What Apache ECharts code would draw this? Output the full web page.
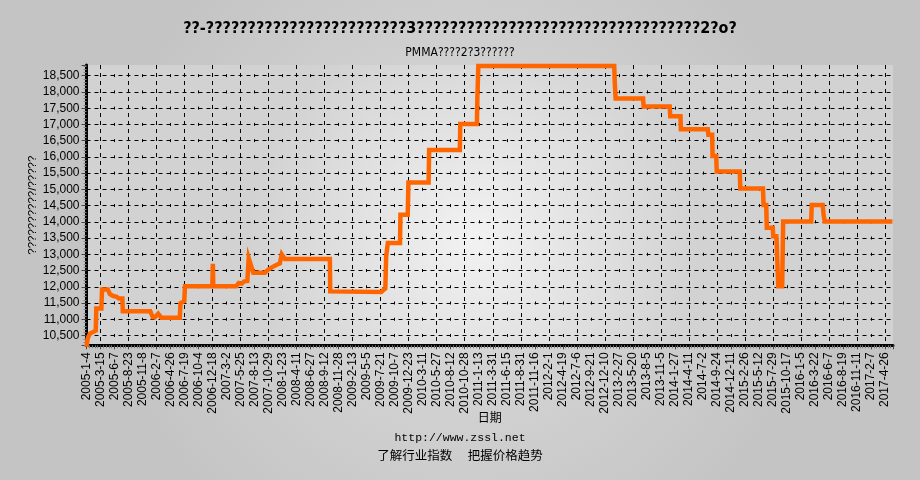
<!DOCTYPE html>
<html><head><meta charset="utf-8">
<script src="https://cdn.jsdelivr.net/npm/echarts@6/dist/echarts.min.js"></script>
<style>html,body{margin:0;padding:0;background:#c9c9c9}#c{width:920px;height:480px}</style>
</head><body><div id="c"></div>
<script>
// ---- text ----
const titleText = '??-????????????????????????3??????????????????????????????????2?o?';
const subtitleText = 'PMMA????2?3??????';
const yAxisName = '??????????/?????';
const xAxisName = '日期';
const siteText = 'http://www.zssl.net';
const sloganText = '了解行业指数\u3000 把握价格趋势';

// ---- x tick labels (one per label slot) ----
const tickLabels = ['2005-1-4','2005-3-15','2005-6-7','2005-8-23','2005-11-8','2006-2-7','2006-4-26','2006-7-19','2006-10-4','2006-12-18',
'2007-3-2','2007-5-25','2007-8-13','2007-10-29','2008-1-23','2008-4-11','2008-6-27','2008-9-12','2008-11-28','2009-2-13',
'2009-5-5','2009-7-21','2009-10-7','2009-12-23','2010-3-11','2010-5-27','2010-8-12','2010-10-28','2011-1-13','2011-3-31',
'2011-6-15','2011-8-31','2011-11-16','2012-2-1','2012-4-19','2012-7-6','2012-9-21','2012-12-10','2013-2-27','2013-5-20',
'2013-8-5','2013-11-5','2014-1-27','2014-4-11','2014-7-2','2014-9-24','2014-12-11','2015-2-26','2015-5-12','2015-7-29',
'2015-10-17','2016-1-5','2016-3-22','2016-6-7','2016-8-19','2016-11-11','2017-2-7','2017-4-26'];

// ---- series: position along the date axis (in label slots) and price ----
const stepX = [0,0.09,0.24,0.38,0.66,0.70,1.06,1.11,1.52,1.66,1.88,2.16,2.31,2.56,2.59,4.55,4.73,4.88,5.12,5.34,
6.66,6.71,6.98,7.03,8.98,9.02,9.05,10.69,10.87,11.08,11.26,11.48,11.58,11.91,12.73,12.94,13.23,13.58,13.80,13.94,
14.16,17.37,17.40,21.04,21.33,21.39,21.51,22.38,22.41,22.93,22.98,24.42,24.46,26.65,26.68,27.87,27.90,27.97,37.67,37.71,
37.77,39.73,39.77,41.63,41.67,42.40,42.43,44.35,44.39,44.66,44.69,44.95,44.99,46.63,46.67,48.29,48.33,48.52,48.56,48.99,
49.02,49.24,49.27,49.38,49.66,49.73,51.73,51.77,52.55,52.62,52.70,57.53];
const stepValues = [10150,10420,10560,10620,10650,11330,11330,11920,11920,11780,11720,11690,11640,11640,11250,11250,11060,11060,11170,11050,
11050,11500,11560,12020,12020,12710,12020,12020,12120,12100,12170,12180,12880,12430,12430,12520,12600,12680,12720,13000,
12860,12860,11860,11840,11950,12930,13350,13350,14220,14220,15210,15210,16210,16210,17010,17010,17800,18800,18800,18280,
17800,17800,17550,17550,17250,17250,16850,16850,16680,16680,16030,16030,15550,15550,15030,15030,14520,14520,13820,13820,
13560,13560,13300,12020,12020,14010,14010,14520,14520,14200,14010,14010];

const xMax = 57.57, yMin = 10200, yMax = 18830;

const chart = echarts.init(document.getElementById('c'), null, {renderer: 'canvas'});
const txt = {fontFamily: 'Liberation Sans', color: '#000'};
chart.setOption({
  animation: false,
  backgroundColor: {type: 'radial', x: 0.5, y: 0.5, r: 0.75,
    colorStops: [{offset: 0, color: '#dcdcdc'}, {offset: 1, color: '#c4c4c4'}]},
  title: [
    {text: titleText, left: 'center', top: 16, textStyle: {fontFamily: 'DejaVu Sans Condensed', fontWeight: 'bold', fontSize: 16, color: '#000'}},
    {text: subtitleText, left: 'center', top: 42, textStyle: {fontFamily: 'DejaVu Sans Condensed', fontWeight: 'normal', fontSize: 12, color: '#000'}},
    {text: siteText, left: 'center', top: 427, textStyle: {fontFamily: 'Liberation Mono', fontWeight: 'normal', fontSize: 11.5, color: '#000'}},
    {text: sloganText, left: 'center', top: 444, textStyle: {fontFamily: 'Noto Sans CJK SC', fontWeight: 'normal', fontSize: 12.5, color: '#000'}}
  ],
  grid: {left: 86.5, right: 27, top: 65, bottom: 134.7, show: true, borderWidth: 0,
    backgroundColor: {type: 'radial', x: 0.48, y: 0.62, r: 0.8,
      colorStops: [{offset: 0, color: '#f2f2f2'}, {offset: 1, color: '#d2d2d2'}]}},
  xAxis: [{
    type: 'value', min: 0, max: xMax, interval: 1,
    name: xAxisName, nameLocation: 'middle', nameGap: 66, nameMoveOverlap: false,
    nameTextStyle: {fontFamily: 'Noto Sans CJK SC', fontSize: 12, color: '#000'},
    axisLine: {show: true, lineStyle: {color: '#000', width: 3}},
    axisTick: {show: true, length: 4, lineStyle: {color: '#444'}},
    minorTick: {show: true, splitNumber: 5, length: 3, lineStyle: {color: '#777'}},
    axisLabel: {rotate: 90, margin: 7, fontSize: 12, ...txt,
      formatter: v => {const r = Math.round(v); return Math.abs(v - r) < 1e-6 && tickLabels[r] !== undefined ? tickLabels[r] : '';}},
    splitLine: {show: false}
  }, {
    type: 'value', min: 0, max: xMax, interval: 2, position: 'bottom',
    axisLine: {show: false}, axisTick: {show: false}, axisLabel: {show: false},
    minorTick: {show: false, splitNumber: 2},
    splitLine: {show: true, showMinLine: false, showMaxLine: false,
      lineStyle: {color: '#000', width: 1, type: [3, 13.24], dashOffset: 7.1}},
    minorSplitLine: {show: true, lineStyle: {color: '#000', width: 1, type: [4, 4]}}
  }],
  yAxis: {
    type: 'value', min: yMin, max: yMax, splitNumber: 16,
    name: yAxisName, nameLocation: 'middle', nameGap: 48, nameRotate: 90, nameMoveOverlap: false,
    nameTextStyle: {fontFamily: 'Liberation Sans', fontSize: 11.5, color: '#000'},
    axisLine: {show: true, lineStyle: {color: '#000', width: 3}},
    axisTick: {show: true, length: 5, lineStyle: {color: '#444'}},
    minorTick: {show: true, splitNumber: 5, length: 3, lineStyle: {color: '#888'}},
    axisLabel: {margin: 7, fontSize: 12, ...txt, showMinLabel: false, showMaxLabel: false,
      formatter: v => v % 500 === 0 ? v.toLocaleString('en-US') : ''},
    splitLine: {show: true, showMinLine: false, showMaxLine: false,
      lineStyle: {color: '#000', width: 1, type: [4, 4]}}
  },
  series: [{
    type: 'line', xAxisIndex: 0, yAxisIndex: 0,
    data: stepX.map((x, i) => [x, stepValues[i]]),
    showSymbol: false, clip: false,
    lineStyle: {color: '#ff6600', width: 4.5, join: 'miter', cap: 'butt'}
  }]
});
</script></body></html>
